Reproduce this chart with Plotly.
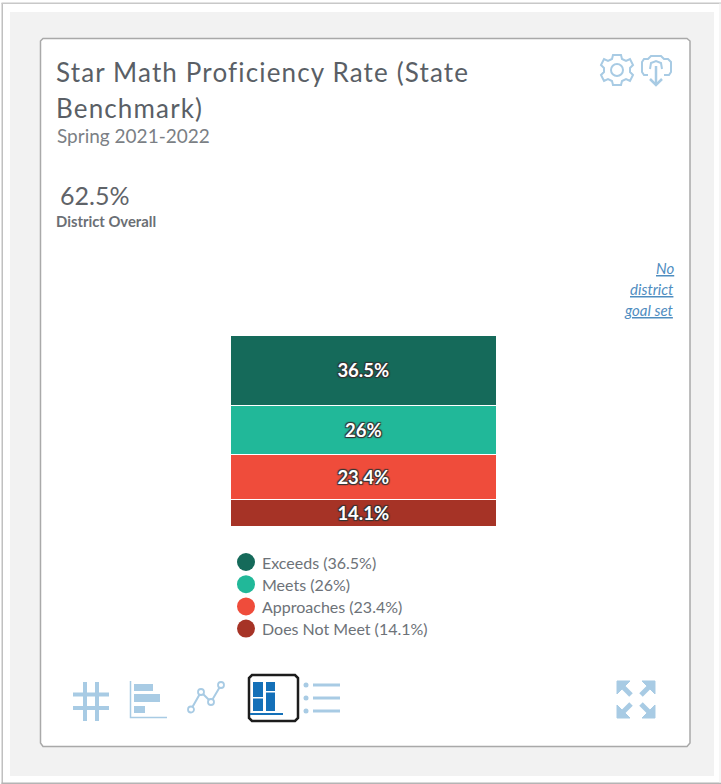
import plotly.graph_objects as go

W, H = 721, 784
# data
categories = ["Exceeds", "Meets", "Approaches", "Does Not Meet"]
values = [36.5, 26, 23.4, 14.1]
bar_labels = ["36.5%", "26%", "23.4%", "14.1%"]
colors = ["#156a5a", "#21b899", "#ef4c3b", "#a63326"]
title_lines = ["Star Math Proficiency Rate (State", "Benchmark)"]
subtitle_text = "Spring 2021-2022"
overall_value = "62.5%"
overall_label = "District Overall"
goal_lines = ["No", "district", "goal set"]

FONT = "Lato"
ICON = "#a8cbe4"
BLUE = "#1470b8"


def px(x):
    return x / W


def py(y):
    return 1 - y / H


def path(*pts, close=False):
    s = "M" + " L".join(f"{px(x):.5f},{py(y):.5f}" for x, y in pts)
    return s + (" Z" if close else "")


shapes = []


def rect(x0, y0, x1, y1, fill=None, line=None, lw=1, layer="below"):
    shapes.append(dict(type="rect", xref="paper", yref="paper", x0=px(x0), x1=px(x1),
                       y0=py(y0), y1=py(y1), fillcolor=fill or "rgba(0,0,0,0)",
                       line=dict(color=line or "rgba(0,0,0,0)", width=lw if line else 0), layer=layer))


def circle(cx, cy, r, fill=None, line=None, lw=1, layer="above"):
    shapes.append(dict(type="circle", xref="paper", yref="paper", x0=px(cx - r), x1=px(cx + r),
                       y0=py(cy - r), y1=py(cy + r), fillcolor=fill or "rgba(0,0,0,0)",
                       line=dict(color=line or "rgba(0,0,0,0)", width=lw if line else 0), layer=layer))


def poly(pts, color=ICON, lw=2, close=False, fill=None):
    shapes.append(dict(type="path", xref="paper", yref="paper", path=path(*pts, close=close),
                       fillcolor=fill or "rgba(0,0,0,0)",
                       line=dict(color=color, width=lw), layer="above"))


# page frame: thin gray lines on top/left/bottom, very light on the right
rect(0, 0, 721, 784, fill="#ffffff")
rect(1.5, 3, 3, 784, fill="#c0c0c0")
rect(1.5, 2.5, 721, 4, fill="#c8c8c8")
rect(1.5, 782.5, 721, 784, fill="#b4b4b4")
rect(719.5, 3, 720.5, 783, fill="#eeeeee")
rect(10, 12, 714, 776, fill="#f2f2f2")
# card
shapes.append(dict(type="path", xref="paper", yref="paper", layer="below",
                   path=path((43, 38.5), (687, 38.5), (690, 41), (690, 743), (687, 746.5), (43, 746.5),
                             (40.5, 743), (40.5, 41), close=True),
                   fillcolor="#ffffff", line=dict(color="#a9a9a9", width=1.5)))

# hash icon
poly([(85, 682), (85, 721)], lw=4)
poly([(97, 682), (97, 721)], lw=4)
poly([(73, 694.5), (109, 694.5)], lw=4)
poly([(73, 708), (109, 708)], lw=4)
# horizontal bars icon
poly([(130.5, 681), (130.5, 717.5), (167, 717.5)], lw=1.5)
rect(134, 684, 153, 691, fill=ICON, layer="above")
rect(134, 694, 160, 702, fill=ICON, layer="above")
rect(134, 706, 145, 713, fill=ICON, layer="above")
# line icon
poly([(191, 709.5), (201, 692), (211, 702), (221, 685)], lw=2)
for c in [(191, 709.5), (201, 692), (211, 702), (221, 685)]:
    circle(c[0], c[1], 3, fill="#ffffff", line=ICON, lw=1.8)
# selected stacked icon
shapes.append(dict(type="path", xref="paper", yref="paper", layer="above",
                   path=path((252, 675), (295, 675), (298, 678), (298, 718), (295, 721), (252, 721),
                             (249, 718), (249, 678), close=True),
                   fillcolor="rgba(0,0,0,0)", line=dict(color="#1c1c1c", width=2.5)))
rect(253, 682, 263, 697, fill=BLUE, layer="above")
rect(253, 698.5, 263, 711, fill=BLUE, layer="above")
rect(266, 682, 275, 691, fill=BLUE, layer="above")
rect(266, 692.5, 275, 711, fill=BLUE, layer="above")
rect(250, 713, 283, 715, fill=BLUE, layer="above")
# list icon
for y in [685, 698, 711]:
    circle(306, y, 2.5, fill=ICON)
    poly([(313, y), (340, y)], lw=3)
# expand icon
for (a, b, c) in [((617, 681), (630, 681), (617, 694)), ((655, 681), (642, 681), (655, 694)),
                  ((617, 718), (630, 718), (617, 705)), ((655, 718), (642, 718), (655, 705))]:
    poly([a, b, c], lw=1, close=True, fill=ICON)
poly([(622, 686), (631, 695)], lw=5)
poly([(650, 686), (641, 695)], lw=5)
poly([(622, 713), (631, 704)], lw=5)
poly([(650, 713), (641, 704)], lw=5)
# gear icon
gear = [(613, 55), (621, 55), (622, 59), (626, 61), (630, 59), (633, 65), (630, 68), (630, 72), (633, 75),
        (630, 81), (626, 79), (622, 81), (621, 85), (613, 85), (612, 81), (608, 79), (604, 81), (601, 75),
        (604, 72), (604, 68), (601, 65), (604, 59), (608, 61), (612, 59)]
poly(gear, lw=2, close=True)
circle(617, 70, 6, line=ICON, lw=2)
# cloud/download icon
poly([(648, 75), (644, 75), (642, 72), (642, 62), (644, 59), (648, 59), (651, 56), (661, 56), (664, 59),
      (668, 59), (671, 62), (671, 72), (669, 75), (664, 75)], lw=2)
poly([(650, 69), (651, 63), (656, 61), (661, 63), (662, 69)], lw=2)
poly([(656, 66), (656, 85)], lw=2.5)
poly([(650, 79), (656, 85), (662, 79)], lw=2.5)

# bars: bottom-up stacking
fig = go.Figure()
for name, v, lab, col in reversed(list(zip(categories, values, bar_labels, colors))):
    fig.add_trace(go.Bar(
        x=["District"], y=[v], name=name, text=[lab], textposition="inside", insidetextanchor="middle",
        textangle=0, constraintext="none",
        textfont=dict(family=FONT, size=18.5, color="#ffffff", weight="bold",
                      shadow="1px 1px 1px #333, -1px -1px 1px #333, 1px -1px 1px #333, -1px 1px 1px #333"),
        marker=dict(color=col, line=dict(color="#ffffff", width=1.5)),
        hoverinfo="skip", showlegend=False,
    ))

annotations = []


def text(x, y, s, size, color="#5f6368", anchor="left", **kw):
    annotations.append(dict(xref="paper", yref="paper", x=px(x), y=py(y), text=s, showarrow=False,
                            xanchor=anchor, yanchor="middle", align=anchor,
                            font=dict(family=FONT, size=size, color=color, **kw)))


for line, y in zip(title_lines, [72, 108]):
    text(54, y, line, 26, color="#5a5f66")
text(54.5, 136, subtitle_text, 19, color="#7b7f85")
text(57.5, 194.5, overall_value, 25, color="#5f6368")
text(54, 221, overall_label, 14.8, color="#6b6f75", weight="bold")

for line, y in zip(goal_lines, [268, 289, 310]):
    text(676, y, f"<i><u>{line}</u></i>", 15, color="#4f8dbf", anchor="right")

for i, (name, v, col) in enumerate(zip(categories, values, colors)):
    y = 562 + i * 22.2
    circle(246, y, 9, fill=col)
    text(260, y, f"{name} ({v:g}%)", 16, color="#6d7278")

fig.update_layout(
    width=W, height=H, margin=dict(l=0, r=0, t=0, b=0), autosize=False,
    paper_bgcolor="#ffffff", plot_bgcolor="rgba(0,0,0,0)",
    barmode="stack", bargap=0,
    xaxis=dict(domain=[px(231), px(497)], visible=False, fixedrange=True),
    yaxis=dict(domain=[py(527), py(336)], range=[0, 100], visible=False, fixedrange=True),
    shapes=shapes, annotations=annotations,
)
post = """
document.body.style.margin='0';document.documentElement.style.overflow='hidden';
document.querySelectorAll('.annotation-text').forEach(function(t){
  var s=t.textContent;
  if(s.indexOf('Star Math')===0){t.style.letterSpacing='1.15px';}
  if(s.indexOf('Benchmark')===0){t.style.letterSpacing='1.15px';}
});
"""
fig.write_html("out.html", config=dict(displayModeBar=False), post_script=post)
